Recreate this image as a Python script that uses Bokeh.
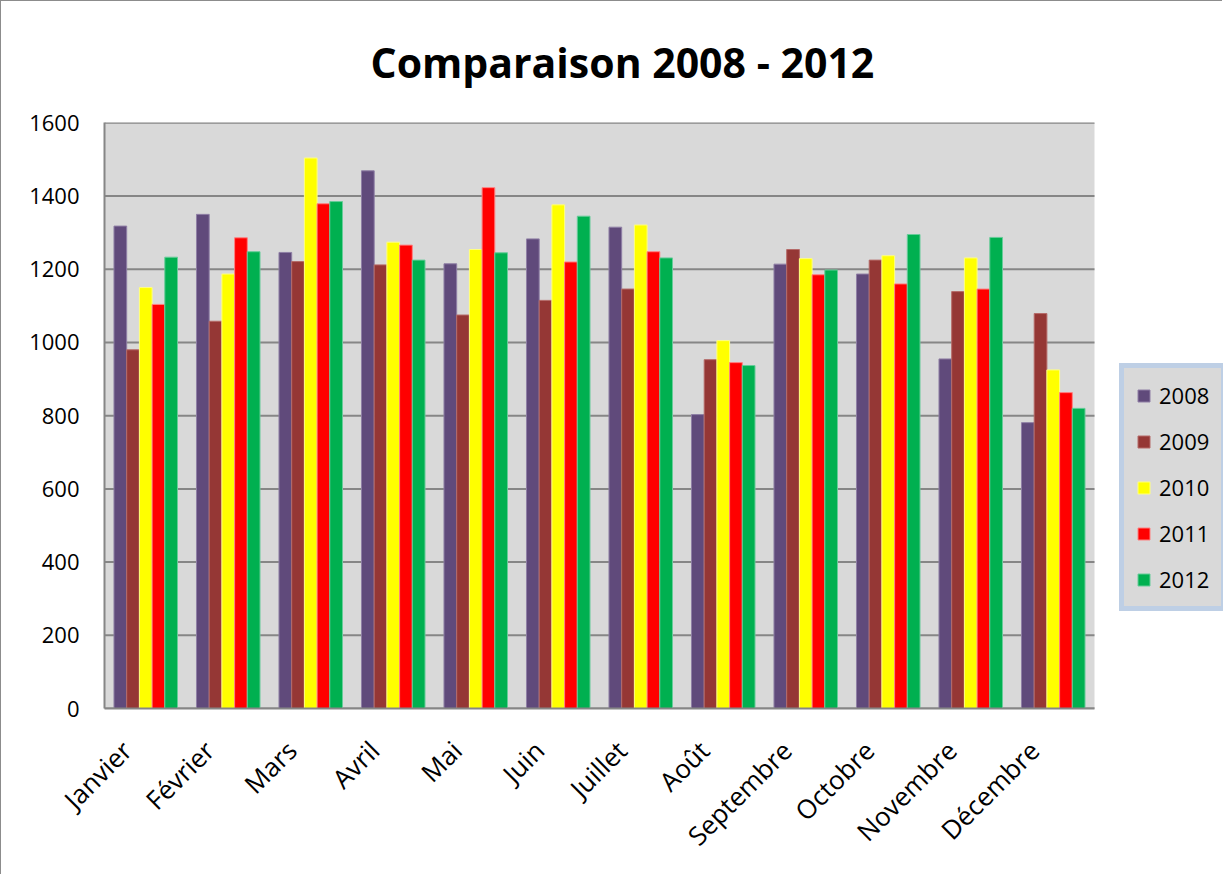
import math
from bokeh.plotting import figure
from bokeh.models import (ColumnDataSource, Legend, LegendItem, FixedTicker,
                          BoxAnnotation, Range1d)
from bokeh.transform import dodge
from bokeh.embed import file_html
from bokeh.resources import INLINE

months = ["Janvier", "Février", "Mars", "Avril", "Mai", "Juin", "Juillet",
          "Août", "Septembre", "Octobre", "Novembre", "Décembre"]
years = ["2008", "2009", "2010", "2011", "2012"]
y_ticks = [0, 200, 400, 600, 800, 1000, 1200, 1400, 1600]

v2008 = [1318, 1350, 1246, 1469, 1215, 1283, 1315, 803, 1214, 1187, 955, 781]
v2009 = [980, 1058, 1221, 1212, 1075, 1115, 1146, 953, 1254, 1225, 1139, 1079]
v2010 = [1150, 1187, 1504, 1274, 1254, 1376, 1321, 1005, 1229, 1237, 1231, 925]
v2011 = [1104, 1286, 1379, 1266, 1423, 1220, 1248, 945, 1185, 1160, 1146, 863]
v2012 = [1233, 1248, 1385, 1225, 1245, 1345, 1231, 937, 1198, 1295, 1287, 820]

colors = ["#604a7b", "#953735", "#ffff00", "#ff0000", "#00b050"]
edge = ["#8f7fa5", "#b56a68", "#ffff80", "#ff8080", "#66cc99"]

n = len(months)
idx = list(range(n))
src = ColumnDataSource(dict(idx=idx, y2008=v2008, y2009=v2009,
                            y2010=v2010, y2011=v2011, y2012=v2012))

FONT = "Open Sans"

# frame spans the plot area plus the legend zone to its right
p = figure(x_range=Range1d(0, 1119 / 82.5), y_range=Range1d(0, 1601),
           width=1222, height=874, output_backend="svg", toolbar_location=None,
           min_border_left=103, min_border_right=0, min_border_top=121,
           min_border_bottom=167, background_fill_color="white",
           border_fill_color="white", title="Comparaison 2008 - 2012")
p.outline_line_color = None
p.xgrid.grid_line_color = None
p.ygrid.grid_line_color = None

# grey plot area
p.add_layout(BoxAnnotation(left=0, right=n, bottom=0, top=1600,
                           fill_color="#d9d9d9", fill_alpha=1, line_color=None,
                           level="underlay"))
# horizontal gridlines at the y ticks
p.segment(x0=[0] * len(y_ticks), x1=[n] * len(y_ticks), y0=y_ticks, y1=y_ticks,
          line_color="#868686", line_width=2)

w = 0.154
items = []
for i, (yr, col, ec) in enumerate(zip(years, colors, edge)):
    r = p.vbar(x=dodge("idx", 0.5 + (i - 2) * w), top="y" + yr,
               width=w, source=src, fill_color=col, line_color=ec, line_width=1)
    items.append(LegendItem(label=yr, renderers=[r]))

p.title.text_font = FONT
p.title.text_font_size = "41px"
p.title.text_font_style = "bold"
p.title.text_color = "black"
p.title.align = "left"
p.title.offset = 266
p.title.vertical_align = "top"
p.title.standoff = 62

p.yaxis.ticker = FixedTicker(ticks=y_ticks)
p.yaxis.major_label_text_font = FONT
p.yaxis.major_label_text_font_size = "22px"
p.yaxis.major_label_text_color = "black"
p.yaxis.major_tick_in = 0
p.yaxis.major_tick_out = 0
p.yaxis.minor_tick_line_color = None
p.yaxis.major_label_standoff = 25
p.yaxis.axis_line_color = "#868686"
p.yaxis.axis_line_width = 2

# month labels sit slightly left of the group centre, as in the original
lab_pos = [i + 0.27 for i in idx]
p.xaxis.ticker = FixedTicker(ticks=lab_pos)
p.xaxis.major_label_overrides = {x: m for x, m in zip(lab_pos, months)}
p.xaxis.bounds = (0, n)
p.xaxis.major_label_orientation = math.pi / 4
p.xaxis.major_label_text_font = FONT
p.xaxis.major_label_text_font_size = "26px"
p.xaxis.major_label_text_color = "black"
p.xaxis.major_tick_in = 0
p.xaxis.major_tick_out = 0
p.xaxis.minor_tick_line_color = None
p.xaxis.major_label_standoff = 37
p.xaxis.axis_line_color = "#868686"
p.xaxis.axis_line_width = 2

legend = Legend(items=items, location=(1015, 97))
legend.background_fill_color = "#d9d9d9"
legend.background_fill_alpha = 1
legend.border_line_color = "#a4c6f2"
legend.border_line_width = 5
legend.label_text_font = FONT
legend.label_text_font_size = "22px"
legend.label_text_color = "black"
legend.glyph_width = 15
legend.glyph_height = 15
legend.spacing = 16
legend.padding = 12
legend.margin = 0
legend.label_standoff = 8
p.add_layout(legend, "center")

p.styles = {"border-left": "1px solid #8c8c8c", "border-top": "1px solid #8c8c8c"}

open("out.html", "w").write(file_html(p, INLINE))
